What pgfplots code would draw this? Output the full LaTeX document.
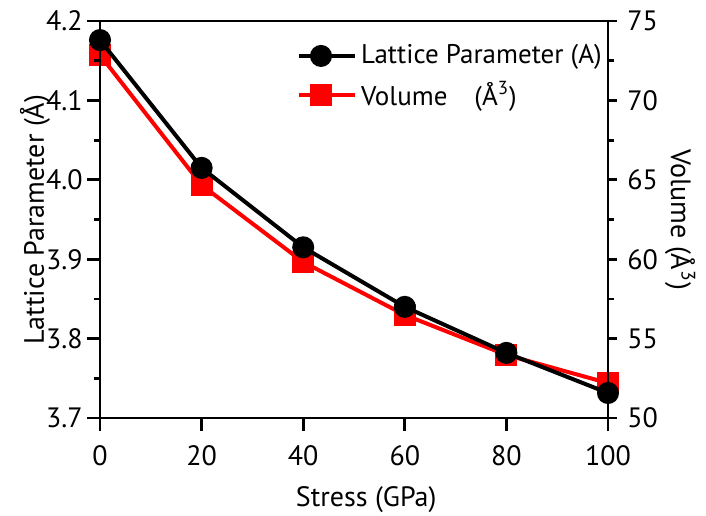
\documentclass[border=0pt]{standalone}
\usepackage{fontspec}
\setmainfont{PT Sans}
\usepackage{pgfplots}
\pgfplotsset{compat=1.18}
\begin{document}
\fontsize{13.5}{16}\selectfont
\begin{tikzpicture}
\useasboundingbox (-50pt,-48.5pt) rectangle (303pt,209pt);
\pgfplotsset{
  common/.style={
    scale only axis, width=254pt, height=198.5pt,
    at={(0,0)}, anchor=south west,
    xmin=0, xmax=100,
    every axis/.append style={line width=1.4pt},
    tick style={line width=1.4pt, black},
    major tick length=6.5pt, minor tick length=2.8pt,
    tick align=outside,
    /pgf/number format/assume math mode=true,
    tick label style={font=\fontsize{14}{16}\selectfont},
    label style={font=\fontsize{14}{16}\selectfont},
  }
}
% Volume axis (right)
\begin{axis}[common,
  axis x line=none, axis y line*=right,
  ymin=50, ymax=75, ytick={50,55,...,75}, minor y tick num=1,
  major tick length=4.5pt,
  ylabel={Volume (Å\textsuperscript{3})},
  ylabel style={at={(axis description cs:1.142,0.5)}, rotate=180, anchor=center},
]
\addplot[red, line width=2pt, mark=square*, mark size=4.5pt] coordinates {
 (0,72.86) (20,64.67) (40,59.82) (60,56.49) (80,53.97) (100,52.2)};
\end{axis}
% Lattice axis (left)
\begin{axis}[common,
  ymin=3.7, ymax=4.2, ytick={3.7,3.8,...,4.2}, minor y tick num=1,
  xtick={0,20,...,100}, xtick pos=bottom, ytick pos=left,
  yticklabel style={xshift=3pt, /pgf/number format/.cd, fixed, fixed zerofill, precision=1},
  xticklabel style={yshift=-2pt},
  ylabel={Lattice Parameter (Å)},
  ylabel style={at={(axis description cs:-0.128,0.5)}, anchor=center},
  xlabel={Stress (GPa)},
  xlabel style={at={(axis description cs:0.524,-0.205)}, anchor=center},
  legend style={draw=none, fill=none, at={(0.374,0.965)}, anchor=north west,
    font=\fontsize{13.5}{16}\selectfont, row sep=3pt,
    nodes={inner sep=2pt}},
  legend cell align=left,
  legend image code/.code={\draw[mark repeat=2,mark phase=2] plot coordinates {(0cm,0cm)(0.38cm,0cm)(0.76cm,0cm)}; \path (0.76cm,0) -- (0.98cm,0);},
]
\addplot[black, line width=2pt, mark=*, mark size=4.5pt] coordinates {
 (0,4.176) (20,4.015) (40,3.915) (60,3.840) (80,3.782) (100,3.7315)};
\addlegendentry{Lattice Parameter (A)}
\addlegendimage{red, line width=2pt, mark=square*, mark size=4.5pt}
\addlegendentry{Volume\quad (Å\textsuperscript{3})}
\end{axis}
\end{tikzpicture}
\end{document}
